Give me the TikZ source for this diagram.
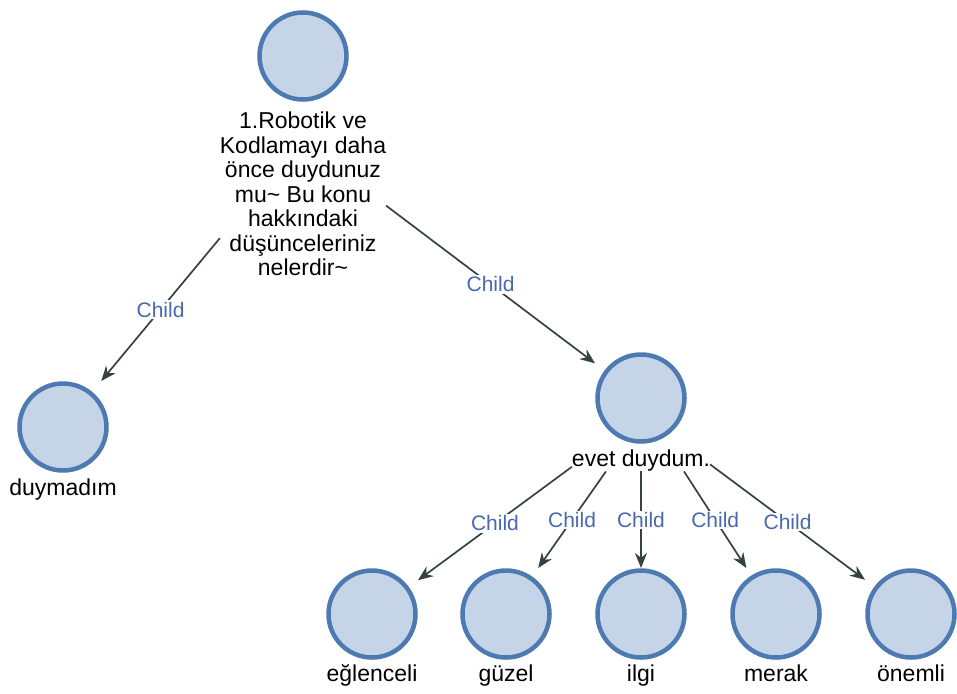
\documentclass[tikz,border=0pt]{standalone}
\usepackage{fontspec}
\setmainfont{Liberation Sans}
\usetikzlibrary{arrows.meta,positioning}
\definecolor{vertexfill}{RGB}{198,212,232}
\definecolor{vertexring}{RGB}{78,122,178}
\definecolor{arrowgray}{RGB}{52,66,66}
\definecolor{childblue}{RGB}{72,104,176}
\tikzset{
  vertex/.style={rectangle, minimum size=92pt, inner sep=0pt, outer sep=0pt,
    path picture={\draw[vertexring, fill=vertexfill, line width=4.5pt]
      (path picture bounding box.center) circle (43.5pt);}},
  vlabel/.style={inner sep=0pt, outer sep=0pt, align=center,
    font=\fontsize{23}{24.5}\selectfont},
  childarrow/.style={draw=arrowgray, line width=1.7pt,
    -{Stealth[length=15pt,width=12pt]}},
  childlbl/.style={fill=white, text=childblue, inner sep=1.5pt,
    font=\fontsize{21}{24}\selectfont}
}

\begin{document}
\begin{tikzpicture}[x=1pt,y=-1pt]
    \useasboundingbox (0,0) rectangle (957,693);
    \node[vertex] (r1) at (303,56) {};
    \node[vlabel, below=10pt of r1] (r1t) {1.Robotik ve\\Kodlamayı daha\\önce duydunuz\\mu\textasciitilde{} Bu konu\\hakkındaki\\düşünceleriniz\\nelerdir\textasciitilde};
    \node[vertex] (c1) at (63,427) {};
    \node[vlabel, below=6pt of c1] (c1t) {duymadım};
    \node[vertex] (c2) at (641,398) {};
    \node[vlabel, below=6pt of c2] (c2t) {evet duydum.};
    \node[vertex] (g1) at (372,614) {};
    \node[vlabel, below=5pt of g1] (g1t) {eğlenceli};
    \node[vertex] (g2) at (506,614) {};
    \node[vlabel, below=5pt of g2] (g2t) {güzel};
    \node[vertex] (g3) at (641,614) {};
    \node[vlabel, below=5pt of g3] (g3t) {ilgi};
    \node[vertex] (g4) at (776,614) {};
    \node[vlabel, below=5pt of g4] (g4t) {merak};
    \node[vertex] (g5) at (911,614) {};
    \node[vlabel, below=5pt of g5] (g5t) {önemli};
    \draw[childarrow] (r1t.208) -- node[childlbl] {Child} (c1);
    \draw[childarrow] (r1t.-8) -- node[childlbl] {Child} (c2);
    \draw[childarrow] (c2t.185) -- node[childlbl] {Child} (g1);
    \draw[childarrow] (c2t.197) -- node[childlbl] {Child} (g2);
    \draw[childarrow] (c2t.south) -- node[childlbl] {Child} (g3);
    \draw[childarrow] (c2t.-14) -- node[childlbl] {Child} (g4);
    \draw[childarrow] (c2t.-3) -- node[childlbl] {Child} (g5);
\end{tikzpicture}
\end{document}
